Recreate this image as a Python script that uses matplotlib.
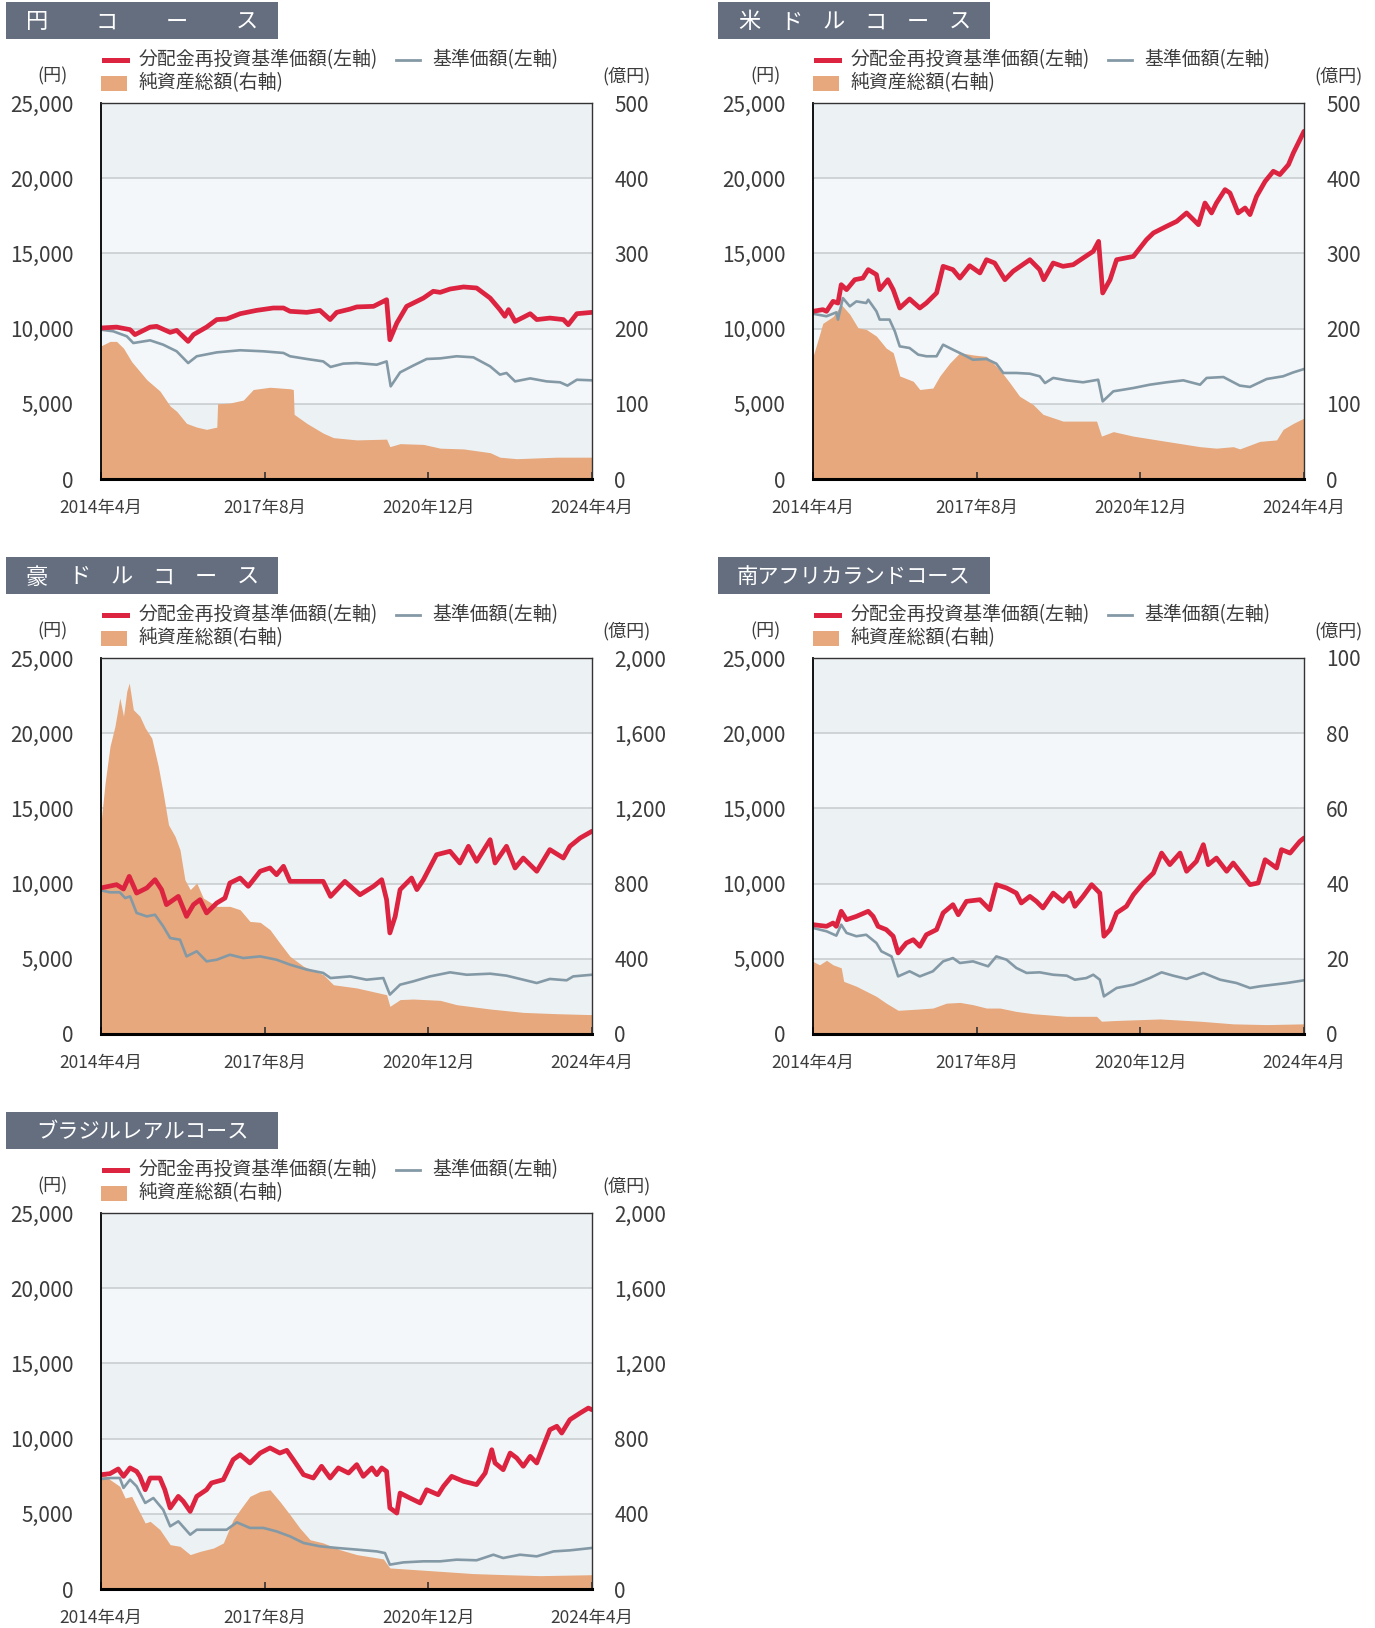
import matplotlib
matplotlib.use("Agg")
import matplotlib.pyplot as plt
from matplotlib.lines import Line2D
from matplotlib.patches import Rectangle

plt.rcParams['font.family'] = ['Noto Sans CJK JP', 'DejaVu Sans']

# =============================================================
# Data (x = months since 2014年4月)
# =============================================================

x_ticks = [0, 40, 80, 120]
x_labels = ["2014年4月", "2017年8月", "2020年12月", "2024年4月"]
left_ticks = [0, 5000, 10000, 15000, 20000, 25000]

# --- 円コース ---
yen_red_m = [0, 3.8, 7.1, 8.3, 12.0, 13.6, 16.9, 18.5, 21.3, 22.6, 25.8, 28.3, 30.7, 34.0, 38.0, 42.1,
             44.6, 46.2, 50.3, 53.5, 56.0, 57.6, 60.9, 62.5, 66.6, 69.0, 69.8, 70.6, 72.3, 74.7, 78.8,
             81.2, 82.9, 85.3, 88.6, 91.8, 95.1, 97.5, 98.7, 99.6, 101.2, 103.2, 104.9, 106.5, 109.7,
             113.0, 114.2, 116.3, 120]
yen_red_v = [10040, 10100, 9930, 9600, 10100, 10150, 9750, 9880, 9150, 9600, 10100, 10600, 10640, 10990,
             11210, 11370, 11370, 11150, 11080, 11210, 10600, 11080, 11300, 11440, 11480, 11810, 11920,
             9260, 10370, 11480, 12030, 12480, 12410, 12630, 12770, 12700, 12030, 11260, 10820, 11260,
             10480, 10750, 10990, 10600, 10700, 10600, 10260, 10990, 11080]
yen_blue_m = [0, 3.0, 6.3, 7.9, 12.0, 15.2, 18.5, 21.3, 23.4, 28.3, 34.0, 39.7, 44.6, 46.2, 50.3, 54.3,
              56.1, 59.2, 62.5, 67.4, 69.8, 70.8, 73.1, 76.3, 79.6, 82.9, 86.9, 91.0, 95.1, 97.5, 99.1,
              101.2, 104.9, 108.9, 112.2, 114.0, 116.3, 120]
yen_blue_v = [9930, 9820, 9490, 9040, 9220, 8930, 8490, 7710, 8160, 8420, 8560, 8490, 8380, 8160, 7980,
              7820, 7450, 7670, 7710, 7600, 7820, 6160, 7090, 7540, 7980, 8020, 8160, 8090, 7490, 6940,
              7050, 6490, 6690, 6490, 6430, 6210, 6600, 6560]
yen_area_m = [0, 2.2, 3.8, 5.5, 7.5, 11.2, 14.4, 16.9, 18.5, 20.9, 23.4, 25.8, 28.3, 28.5, 31.5, 34.8,
              37.2, 41.3, 46.2, 47.0, 47.2, 50.3, 54.3, 56.8, 62.5, 69.8, 70.6, 73.1, 78.8, 82.9, 88.6,
              95.1, 97.5, 101.6, 111.4, 120]
yen_area_v = [177, 183, 183, 174, 156, 132, 117, 97, 90, 74, 69, 66, 69, 100, 101, 105, 119, 122, 120,
              119, 86, 74, 61, 55, 52, 53, 43, 47, 46, 41, 40, 35, 29, 27, 29, 29]

# --- 米ドルコース ---
usd_red_m = [0, 2.4, 3.3, 4.9, 6.1, 6.9, 8.2, 10.2, 12.2, 13.5, 15.5, 16.3, 18.3, 19.6, 21.2, 23.6,
             26.1, 27.7, 30.2, 31.8, 34.2, 35.9, 38.3, 40.8, 42.4, 44.4, 46.9, 48.9, 53.0, 55.4, 56.4,
             58.7, 61.1, 63.6, 66.0, 68.5, 69.8, 70.8, 72.6, 74.2, 78.3, 81.5, 83.2, 86.4, 88.9, 91.3,
             94.2, 95.8, 97.4, 98.6, 100.7, 101.9, 103.9, 105.6, 106.8, 108.4, 110.5, 112.5, 114.1,
             116.2, 117.4, 119.0, 120]
usd_red_v = [11150, 11260, 11150, 11810, 11700, 12920, 12590, 13250, 13360, 13920, 13590, 12590, 13250,
             12590, 11370, 11970, 11370, 11700, 12370, 14140, 13920, 13360, 14180, 13700, 14580, 14360,
             13250, 13810, 14580, 13920, 13250, 14360, 14140, 14250, 14690, 15140, 15800, 12370, 13250,
             14580, 14800, 15910, 16360, 16800, 17130, 17690, 16910, 18350, 17690, 18350, 19240, 19020,
             17690, 18020, 17580, 18790, 19790, 20460, 20240, 20900, 21680, 22560, 23120]
usd_blue_m = [0, 3.3, 5.7, 6.1, 7.3, 9.0, 10.6, 13.0, 13.5, 15.5, 16.3, 18.7, 20.0, 21.2, 23.6, 25.7,
              27.7, 30.2, 31.8, 34.2, 36.7, 39.1, 42.4, 44.8, 46.5, 49.7, 53.0, 55.4, 56.7, 58.7, 62.0,
              66.0, 69.7, 70.8, 73.4, 78.3, 82.3, 86.4, 90.5, 94.6, 96.2, 100.3, 104.3, 106.8, 110.9,
              114.9, 117.4, 120]
usd_blue_v = [10990, 10820, 11080, 10600, 12030, 11480, 11810, 11700, 11920, 11150, 10600, 10600, 9820,
              8820, 8710, 8270, 8160, 8160, 8930, 8600, 8270, 7930, 7980, 7670, 7050, 7050, 7000, 6830,
              6380, 6720, 6560, 6430, 6600, 5160, 5830, 6050, 6270, 6430, 6560, 6270, 6720, 6780, 6210,
              6120, 6650, 6830, 7090, 7310]
usd_area_m = [0, 1.6, 2.4, 4.9, 6.9, 9.0, 11.0, 13.0, 15.5, 17.9, 19.6, 21.2, 24.5, 26.1, 29.3, 31.0,
              33.4, 35.9, 39.1, 42.4, 45.7, 48.1, 50.5, 53.8, 56.2, 61.1, 69.3, 70.5, 73.4, 78.3, 86.4,
              94.6, 98.6, 102.7, 104.3, 109.2, 113.3, 114.9, 117.4, 120]
usd_area_v = [163, 192, 207, 216, 232, 219, 201, 199, 190, 174, 168, 137, 130, 119, 121, 137, 154, 168,
              165, 163, 145, 128, 110, 99, 86, 77, 77, 57, 63, 57, 50, 43, 41, 43, 40, 50, 52, 66, 74, 81]

# --- 豪ドルコース ---
aud_red_m = [0, 3.8, 5.5, 6.9, 8.7, 11.2, 13.2, 14.8, 16.0, 18.9, 20.9, 22.6, 24.2, 25.8, 28.3, 30.3,
             31.5, 34.0, 36.0, 38.9, 41.3, 42.9, 44.6, 46.2, 50.3, 54.3, 56.1, 59.6, 63.3, 66.6, 68.6,
             69.8, 70.6, 71.9, 73.1, 75.9, 77.2, 78.8, 82.0, 85.3, 87.7, 89.8, 91.8, 95.1, 96.3, 99.1,
             101.2, 103.2, 106.5, 109.7, 113.0, 114.6, 117.1, 120]
aud_red_v = [9710, 9930, 9640, 10480, 9370, 9710, 10260, 9600, 8600, 9150, 7820, 8600, 8930, 8050, 8710,
             9040, 10040, 10370, 9820, 10820, 11040, 10590, 11150, 10150, 10150, 10150, 9150, 10150,
             9260, 9820, 10260, 8930, 6720, 7820, 9600, 10370, 9600, 10260, 11920, 12150, 11370, 12480,
             11480, 12920, 11370, 12480, 11040, 11700, 10820, 12260, 11700, 12480, 13030, 13480]
aud_blue_m = [0, 2.2, 4.6, 5.9, 7.1, 8.7, 11.2, 13.2, 15.2, 16.9, 19.3, 20.9, 23.4, 25.8, 28.3, 31.5,
              34.8, 38.9, 42.9, 46.2, 50.3, 54.3, 56.1, 60.9, 64.9, 69.0, 70.6, 73.1, 76.3, 80.4, 85.3,
              89.4, 95.1, 99.1, 103.2, 106.5, 109.7, 113.8, 115.4, 120]
aud_blue_v = [9550, 9420, 9420, 9040, 9150, 8050, 7820, 7930, 7160, 6380, 6270, 5160, 5500, 4830, 4940,
              5270, 5050, 5160, 4940, 4610, 4280, 4060, 3720, 3830, 3610, 3720, 2620, 3280, 3500, 3830,
              4100, 3940, 4010, 3880, 3610, 3390, 3660, 3570, 3830, 3940]
aud_area_m = [0, 1.0, 2.2, 3.4, 4.6, 5.5, 6.3, 6.9, 7.9, 9.5, 10.8, 12.4, 14.0, 15.2, 16.5, 18.1, 19.3,
              20.5, 21.8, 23.4, 25.0, 28.3, 31.5, 34.0, 36.4, 38.9, 41.3, 43.7, 46.2, 49.5, 54.3, 56.8,
              62.5, 69.8, 70.6, 73.1, 76.3, 82.9, 86.9, 95.1, 103.2, 111.4, 120]
aud_area_v = [1122, 1335, 1530, 1636, 1787, 1690, 1823, 1867, 1725, 1690, 1628, 1574, 1424, 1282, 1113,
              1051, 980, 821, 768, 803, 723, 679, 679, 661, 599, 594, 555, 484, 413, 360, 316, 262, 245,
              209, 147, 183, 186, 179, 156, 133, 115, 108, 103]

# --- 南アフリカランドコース ---
zar_red_m = [0, 3.3, 4.9, 5.7, 6.9, 8.2, 10.6, 13.5, 14.7, 15.9, 17.9, 19.6, 20.8, 22.8, 24.5, 26.1,
             27.7, 30.2, 31.8, 34.2, 35.5, 37.5, 40.8, 43.2, 44.8, 47.3, 49.7, 50.9, 53.0, 54.6, 56.2,
             58.7, 61.1, 62.8, 64.0, 66.0, 68.1, 70.1, 71.1, 72.6, 74.2, 76.6, 78.3, 80.7, 83.2, 85.2,
             87.2, 89.7, 91.3, 93.7, 95.4, 96.6, 98.6, 101.1, 102.7, 104.3, 106.8, 108.8, 110.5, 113.3,
             114.5, 116.6, 119.0, 120]
zar_red_v = [7270, 7160, 7380, 7160, 8160, 7600, 7820, 8160, 7820, 7160, 6940, 6500, 5390, 6050, 6270,
             5830, 6600, 6940, 8050, 8600, 7930, 8820, 8930, 8270, 9930, 9710, 9370, 8710, 9150, 8820,
             8380, 9370, 8820, 9370, 8490, 9150, 9930, 9370, 6500, 6940, 8050, 8490, 9260, 10040, 10700,
             12030, 11260, 12030, 10820, 11480, 12590, 11260, 11700, 10820, 11370, 10820, 9930, 10040,
             11590, 11040, 12260, 12030, 12810, 13030]
zar_blue_m = [0, 3.3, 5.7, 6.9, 8.2, 10.6, 13.0, 15.5, 16.7, 19.2, 20.8, 23.6, 26.1, 29.3, 31.8, 34.2,
              35.9, 39.1, 42.8, 44.8, 47.3, 49.7, 52.2, 55.4, 58.7, 62.0, 64.0, 66.8, 68.5, 70.1, 71.1,
              74.2, 78.3, 82.3, 85.2, 88.0, 91.3, 95.4, 99.5, 103.5, 106.8, 109.2, 112.5, 115.8, 120]
zar_blue_v = [7050, 6830, 6540, 7270, 6720, 6500, 6600, 6050, 5500, 5160, 3830, 4170, 3830, 4170, 4830,
              5050, 4720, 4830, 4500, 5160, 4940, 4390, 4060, 4100, 3940, 3880, 3610, 3720, 3940, 3610,
              2500, 3060, 3280, 3720, 4100, 3880, 3660, 4060, 3610, 3390, 3060, 3170, 3280, 3390, 3570]
zar_area_m = [0, 1.6, 3.3, 4.9, 6.9, 7.5, 10.6, 15.5, 17.9, 20.8, 25.3, 29.3, 32.6, 35.9, 39.1, 42.4,
              45.7, 49.7, 53.8, 62.0, 69.3, 70.5, 74.2, 84.8, 94.6, 102.7, 110.9, 120]
zar_area_v = [19.3, 18.4, 19.6, 18.4, 17.6, 14.0, 12.7, 10.0, 8.2, 6.3, 6.6, 6.9, 8.2, 8.4, 7.8, 6.9,
              6.9, 6.0, 5.4, 4.7, 4.7, 3.4, 3.6, 4.0, 3.4, 2.7, 2.5, 2.7]

# --- ブラジルレアルコース ---
brl_red_m = [0, 2.2, 4.2, 5.5, 7.1, 8.7, 9.5, 10.8, 12.0, 14.4, 15.6, 16.9, 18.9, 20.1, 21.8, 23.4,
             25.8, 27.0, 29.9, 32.3, 34.0, 36.4, 38.9, 41.3, 43.7, 45.4, 47.0, 49.5, 51.9, 53.9, 56.0,
             58.0, 60.5, 62.5, 64.1, 66.2, 67.4, 68.6, 69.8, 70.6, 72.3, 73.1, 75.5, 78.0, 79.6, 82.4,
             83.7, 85.7, 88.6, 91.8, 93.9, 95.5, 96.3, 98.3, 100.0, 101.6, 103.2, 104.9, 106.5, 108.1,
             109.7, 111.4, 112.6, 114.6, 117.1, 119.1, 120]
brl_red_v = [7600, 7670, 7980, 7490, 8050, 7820, 7490, 6600, 7380, 7380, 6600, 5390, 6160, 5830, 5160,
             6160, 6600, 7050, 7270, 8600, 8930, 8380, 9040, 9380, 9040, 9220, 8600, 7600, 7380, 8160,
             7380, 8050, 7710, 8270, 7490, 8050, 7600, 8050, 7820, 5390, 5050, 6380, 6050, 5720, 6600,
             6270, 6830, 7490, 7160, 6940, 7710, 9260, 8380, 7930, 9040, 8710, 8160, 8820, 8380, 9490,
             10590, 10820, 10370, 11260, 11700, 12030, 11920]
brl_blue_m = [0, 2.2, 4.6, 5.5, 7.1, 8.7, 10.8, 12.8, 15.2, 16.9, 18.9, 21.8, 23.4, 26.6, 30.7, 33.2,
              36.4, 39.7, 42.9, 46.2, 49.5, 53.5, 57.6, 62.5, 67.4, 69.4, 70.6, 73.9, 78.8, 82.9, 86.9,
              91.8, 95.9, 98.3, 102.4, 106.5, 110.6, 114.6, 120]
brl_blue_v = [7310, 7380, 7380, 6720, 7270, 6830, 5720, 6050, 5270, 4170, 4500, 3610, 3940, 3940, 3940,
              4430, 4060, 4060, 3830, 3500, 3060, 2840, 2730, 2620, 2500, 2390, 1620, 1770, 1840, 1840,
              1950, 1910, 2280, 2060, 2280, 2170, 2500, 2570, 2730]
brl_area_m = [0, 2.2, 4.6, 5.9, 7.5, 8.7, 10.8, 12.0, 14.4, 16.9, 19.3, 21.8, 24.2, 27.5, 29.9, 32.3,
              34.0, 36.4, 38.9, 41.3, 43.7, 46.2, 48.6, 51.1, 54.3, 58.4, 62.5, 69.0, 70.6, 74.7, 82.9,
              91.0, 99.2, 107.3, 120]
brl_area_v = [626, 582, 546, 484, 493, 440, 351, 360, 316, 236, 227, 183, 200, 218, 245, 369, 422, 493,
              519, 528, 466, 395, 324, 262, 245, 209, 183, 160, 112, 106, 94, 82, 76, 71, 76]

# =============================================================
# Layout / styles
# =============================================================

W, H = 1375, 1628
AX_W, AX_H = 491, 376
COL_LEFT = [101, 813]
ROW_TOP = [103, 658, 1213]

RED = '#dc2340'
BLUE = '#8499a6'
ORANGE = '#e6a87c'
BAND_DARK = '#ecf1f4'
BAND_LIGHT = '#f4f7f9'
GRID = '#c6cacd'
TITLE_BG = '#646e7f'
TXT = '#3c3c3c'


def fx(x):
    return x / W


def fy(y):
    return 1 - y / H


def draw_panel(fig, col, row, title, char_step, red, blue, area, rmax):
    left, top = COL_LEFT[col], ROW_TOP[row]
    rect = [fx(left), fy(top + AX_H), AX_W / W, AX_H / H]
    ax = fig.add_axes(rect)
    ax2 = ax.twinx()
    ax.set_zorder(ax2.get_zorder() + 1)
    ax.patch.set_visible(False)

    # bands, grid, area on the right-hand axis
    for k in range(5):
        ax2.axhspan(k * rmax / 5, (k + 1) * rmax / 5, color=BAND_DARK if k % 2 == 0 else BAND_LIGHT,
                    lw=0, zorder=0)
    for k in range(1, 5):
        ax2.axhline(k * rmax / 5, color=GRID, lw=1.1, zorder=1)
    ax2.fill_between(area[0], 0, area[1], color=ORANGE, lw=0, zorder=2)
    ax2.set_ylim(0, rmax)
    rt = [k * rmax / 5 for k in range(6)]
    ax2.set_yticks(rt)
    ax2.set_yticklabels([f"{v:,.0f}" for v in rt])
    ax2.tick_params(axis='y', length=0, pad=16, labelsize=15, labelcolor=TXT)
    for s in ax2.spines.values():
        s.set_visible(False)

    # lines
    ax.plot(blue[0], blue[1], color=BLUE, lw=1.9, solid_joinstyle='round')
    ax.plot(red[0], red[1], color=RED, lw=3.4, solid_joinstyle='round', solid_capstyle='round')
    ax.set_xlim(0, 120)
    ax.set_ylim(0, 25000)
    ax.set_yticks(left_ticks)
    ax.set_yticklabels([f"{v:,}" for v in left_ticks])
    ax.tick_params(axis='y', length=0, pad=20, labelsize=15, labelcolor=TXT)
    ax.set_xticks(x_ticks)
    ax.set_xticklabels(x_labels)
    ax.tick_params(axis='x', direction='in', length=5, width=1.2, color='#333333', pad=14,
                   labelsize=12.5, labelcolor=TXT)
    ax.spines['bottom'].set_linewidth(2.2)
    ax.spines['bottom'].set_color('black')
    ax.spines['left'].set_linewidth(1.3)
    ax.spines['left'].set_color('black')
    ax.spines['top'].set_linewidth(1.0)
    ax.spines['top'].set_color('#333333')
    ax.spines['right'].set_linewidth(1.0)
    ax.spines['right'].set_color('#333333')

    # title box
    fig.add_artist(Rectangle((fx(left - 95), fy(top - 64)), 272 / W, 37 / H,
                             transform=fig.transFigure, color=TITLE_BG, lw=0))
    ty = fy(top - 81)
    if char_step:
        for i, ch in enumerate(title):
            fig.text(fx(left - 64 + i * char_step), ty, ch, color='white', fontsize=16,
                     ha='center', va='center')
    else:
        fig.text(fx(left - 95 + 136), ty, title, color='white', fontsize=15.3, ha='center', va='center')

    # legend
    ly1, ly2 = top - 43, top - 20
    fig.add_artist(Line2D([fx(left + 3), fx(left + 26)], [fy(ly1), fy(ly1)], color=RED, lw=3.6,
                          transform=fig.transFigure))
    fig.text(fx(left + 38), fy(ly1), "分配金再投資基準価額(左軸)", fontsize=13.6, color=TXT,
             ha='left', va='center')
    fig.add_artist(Line2D([fx(left + 295), fx(left + 319)], [fy(ly1), fy(ly1)], color=BLUE, lw=2.0,
                          transform=fig.transFigure))
    fig.text(fx(left + 331), fy(ly1), "基準価額(左軸)", fontsize=13.6, color=TXT, ha='left', va='center')
    fig.add_artist(Rectangle((fx(left), fy(top - 12)), 26 / W, 15 / H, transform=fig.transFigure,
                             color=ORANGE, lw=0))
    fig.text(fx(left + 38), fy(ly2), "純資産総額(右軸)", fontsize=13.6, color=TXT, ha='left', va='center')

    # unit labels
    fig.text(fx(left - 48), fy(top - 27), "(円)", fontsize=13, color=TXT, ha='center', va='center')
    fig.text(fx(left + AX_W + 35), fy(top - 27), "(億円)", fontsize=13, color=TXT,
             ha='center', va='center')


def main():
    fig = plt.figure(figsize=(W / 100, H / 100), dpi=100)
    draw_panel(fig, 0, 0, "円コース", 70, (yen_red_m, yen_red_v), (yen_blue_m, yen_blue_v),
               (yen_area_m, yen_area_v), 500)
    draw_panel(fig, 1, 0, "米ドルコース", 42.2, (usd_red_m, usd_red_v), (usd_blue_m, usd_blue_v),
               (usd_area_m, usd_area_v), 500)
    draw_panel(fig, 0, 1, "豪ドルコース", 42.2, (aud_red_m, aud_red_v), (aud_blue_m, aud_blue_v),
               (aud_area_m, aud_area_v), 2000)
    draw_panel(fig, 1, 1, "南アフリカランドコース", None, (zar_red_m, zar_red_v),
               (zar_blue_m, zar_blue_v), (zar_area_m, zar_area_v), 100)
    draw_panel(fig, 0, 2, "ブラジルレアルコース", None, (brl_red_m, brl_red_v),
               (brl_blue_m, brl_blue_v), (brl_area_m, brl_area_v), 2000)
    fig.savefig("out.png", dpi=100)


if __name__ == "__main__":
    main()
